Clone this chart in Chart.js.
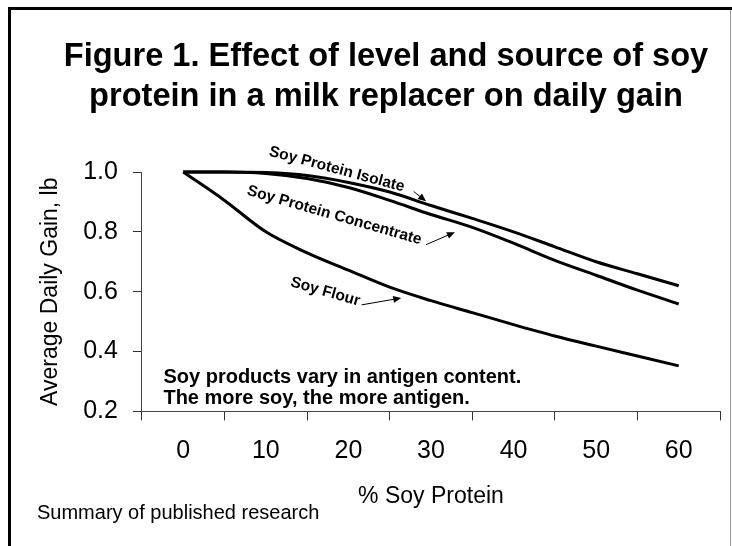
<!DOCTYPE html>
<html>
<head>
<meta charset="utf-8">
<script src="https://cdn.jsdelivr.net/npm/chart.js@4.4.1/dist/chart.umd.min.js"></script>
<style>
  html, body { margin: 0; padding: 0; background: #fff; overflow: hidden; }
  #wrap { position: relative; width: 732px; height: 546px; }
</style>
</head>
<body>
<div id="wrap"><canvas id="chart" width="732" height="546"></canvas></div>
<script>
// data (% soy protein vs average daily gain, lb)
const soyPct = [0, 5, 10, 15, 20, 25, 30, 35, 40, 45, 50, 55, 60];
const isolate = [1.0, 1.0, 0.998, 0.988, 0.965, 0.933, 0.888, 0.845, 0.80, 0.75, 0.70, 0.66, 0.62];
const concentrate = [1.0, 1.0, 0.995, 0.978, 0.948, 0.905, 0.858, 0.815, 0.762, 0.705, 0.655, 0.605, 0.559];
const flour = [1.0, 0.905, 0.80, 0.73, 0.672, 0.615, 0.57, 0.53, 0.49, 0.452, 0.418, 0.385, 0.352];

const xTickLabels = [0, 10, 20, 30, 40, 50, 60];
const yTickLabels = [0.2, 0.4, 0.6, 0.8, 1.0];

const FONT = '"Liberation Sans", Arial, sans-serif';

const toPoints = (vals) => soyPct.map((p, i) => ({ x: p, y: vals[i] }));

// curve labels and arrows, placed in data units
const curveLabels = [
  { text: 'Soy Protein Isolate', x: 18.6, y: 1.009, angle: 15 },
  { text: 'Soy Protein Concentrate', x: 18.3, y: 0.855, angle: 16 },
  { text: 'Soy Flour', x: 17.2, y: 0.60, angle: 16 }
];
const arrows = [
  { from: [27.9, 0.935], to: [29.4, 0.902] },
  { from: [29.4, 0.757], to: [32.9, 0.799] },
  { from: [21.6, 0.556], to: [26.4, 0.579] }
];
const noteLines = ['Soy products vary in antigen content.', 'The more soy, the more antigen.'];

const notes = {
  id: 'notes',
  afterDatasetsDraw(chart) {
    const { ctx, scales: { x, y } } = chart;
    ctx.save();
    ctx.fillStyle = '#000';
    ctx.strokeStyle = '#000';

    // rotated curve labels
    ctx.font = 'bold 15.5px ' + FONT;
    ctx.textAlign = 'center';
    ctx.textBaseline = 'middle';
    curveLabels.forEach(l => {
      ctx.save();
      ctx.translate(x.getPixelForValue(l.x), y.getPixelForValue(l.y));
      ctx.rotate(l.angle * Math.PI / 180);
      ctx.fillText(l.text, 0, 0);
      ctx.restore();
    });

    // arrows
    arrows.forEach(a => {
      const x1 = x.getPixelForValue(a.from[0]), y1 = y.getPixelForValue(a.from[1]);
      const x2 = x.getPixelForValue(a.to[0]), y2 = y.getPixelForValue(a.to[1]);
      const ang = Math.atan2(y2 - y1, x2 - x1);
      ctx.lineWidth = 1;
      ctx.beginPath();
      ctx.moveTo(x1, y1);
      ctx.lineTo(x2 - 5 * Math.cos(ang), y2 - 5 * Math.sin(ang));
      ctx.stroke();
      ctx.beginPath();
      ctx.moveTo(x2, y2);
      ctx.lineTo(x2 - 8 * Math.cos(ang) + 3.5 * Math.sin(ang), y2 - 8 * Math.sin(ang) - 3.5 * Math.cos(ang));
      ctx.lineTo(x2 - 8 * Math.cos(ang) - 3.5 * Math.sin(ang), y2 - 8 * Math.sin(ang) + 3.5 * Math.cos(ang));
      ctx.closePath();
      ctx.fill();
    });

    // note in the lower left of the plot
    ctx.font = 'bold 20px ' + FONT;
    ctx.textAlign = 'left';
    ctx.fillText(noteLines[0], x.getPixelForValue(-2.4), y.getPixelForValue(0.314));
    ctx.fillText(noteLines[1], x.getPixelForValue(-2.4), y.getPixelForValue(0.243));
    ctx.restore();
  },
  afterDraw(chart) {
    const { ctx } = chart;
    ctx.save();
    // title
    ctx.fillStyle = '#000';
    ctx.font = 'bold 32.6px ' + FONT;
    ctx.textAlign = 'center';
    ctx.textBaseline = 'middle';
    ctx.fillText('Figure 1. Effect of level and source of soy', 386, 57);
    ctx.fillText('protein in a milk replacer on daily gain', 386, 97);
    // source line
    ctx.font = '20px ' + FONT;
    ctx.textAlign = 'left';
    ctx.fillText('Summary of published research', 37, 513);
    // frame
    ctx.fillStyle = '#000';
    ctx.fillRect(8, 7, 724, 3);
    ctx.fillRect(8, 7, 3, 539);
    ctx.fillStyle = '#999';
    ctx.fillRect(730, 10, 1, 536);
    ctx.restore();
  }
};

const lineStyle = {
  borderColor: '#000',
  borderWidth: 3,
  pointRadius: 0,
  cubicInterpolationMode: 'monotone',
  fill: false,
  clip: 6
};

new Chart(document.getElementById('chart'), {
  type: 'line',
  data: {
    datasets: [
      { label: 'Soy Protein Isolate', data: toPoints(isolate), ...lineStyle },
      { label: 'Soy Protein Concentrate', data: toPoints(concentrate), ...lineStyle },
      { label: 'Soy Flour', data: toPoints(flour), ...lineStyle }
    ]
  },
  options: {
    responsive: false,
    animation: false,
    events: [],
    layout: { padding: { left: 37, right: 12, top: 172, bottom: 21 } },
    plugins: {
      legend: { display: false },
      tooltip: { enabled: false }
    },
    scales: {
      x: {
        type: 'linear',
        min: -5,
        max: 65,
        afterFit: (s) => { s.paddingRight = 0; s.paddingLeft = 0; },
        ticks: {
          stepSize: 5,
          autoSkip: false,
          maxRotation: 0,
          padding: 16,
          color: '#000',
          font: { family: FONT, size: 25 },
          callback: (v) => xTickLabels.includes(v) ? String(v) : ''
        },
        grid: {
          drawOnChartArea: false,
          tickLength: 9,
          tickColor: (c) => (c.tick && xTickLabels.includes(c.tick.value)) ? 'rgba(0,0,0,0)' : '#333'
        },
        border: { color: '#444', width: 1 },
        title: {
          display: true,
          text: '% Soy Protein',
          color: '#000',
          font: { family: FONT, size: 23 },
          padding: { top: 0, bottom: 15 }
        }
      },
      y: {
        min: 0.2,
        max: 1.0,
        afterBuildTicks: (s) => { s.ticks = yTickLabels.map(v => ({ value: v })); },
        ticks: {
          padding: 15,
          color: '#000',
          font: { family: FONT, size: 25 },
          callback: (v) => v.toFixed(1)
        },
        grid: { drawOnChartArea: false, tickLength: 9, tickColor: '#333' },
        border: { color: '#444', width: 1 },
        title: {
          display: true,
          text: 'Average Daily Gain, lb',
          color: '#000',
          font: { family: FONT, size: 23 },
          padding: { top: 0, bottom: 3.6 }
        }
      }
    }
  },
  plugins: [notes]
});
</script>
</body>
</html>
